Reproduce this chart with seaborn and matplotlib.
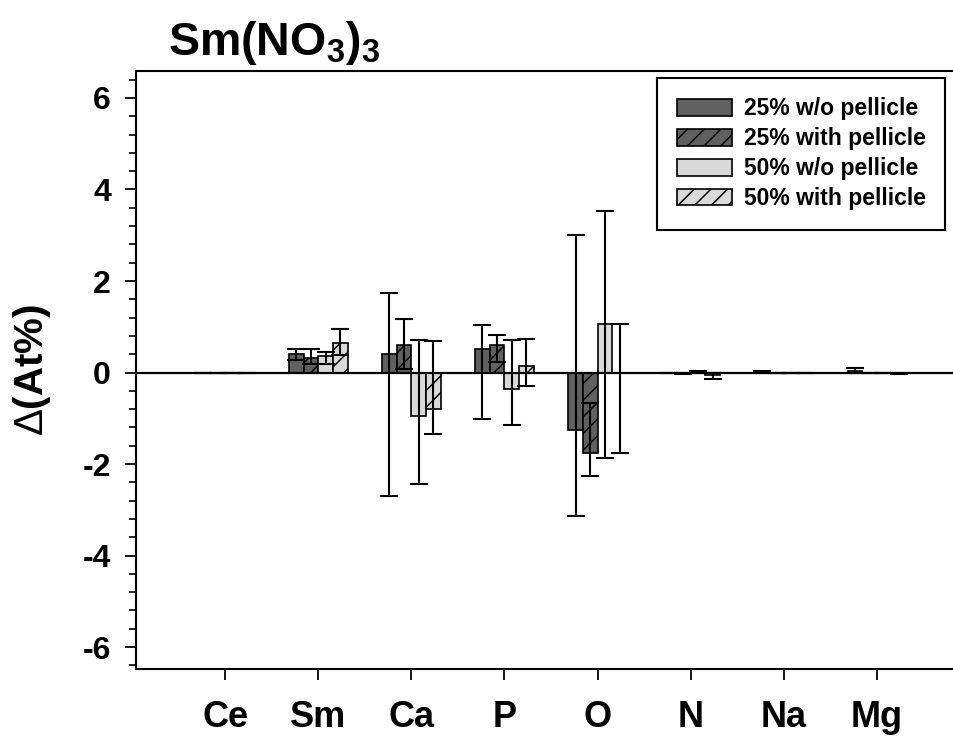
import numpy as np
import pandas as pd
import matplotlib
matplotlib.use("Agg")
import matplotlib.pyplot as plt
from matplotlib.ticker import MultipleLocator
import seaborn as sns

# -- data
categories = ["Ce", "Sm", "Ca", "P", "O", "N", "Na", "Mg"]
series = ["25% w/o pellicle", "25% with pellicle", "50% w/o pellicle", "50% with pellicle"]

val_25_wo = [0.0, 0.40, 0.41, 0.51, -1.26, 0.0, 0.02, 0.03]
lo_25_wo = [0.0, 0.27, -2.70, -1.02, -3.13, 0.0, 0.0, -0.01]
hi_25_wo = [0.0, 0.52, 1.74, 1.03, 3.01, 0.0, 0.03, 0.09]

val_25_with = [0.0, 0.31, 0.61, 0.61, -1.76, -0.02, 0.0, 0.0]
lo_25_with = [0.0, 0.19, 0.08, 0.23, -2.26, -0.04, 0.0, 0.0]
hi_25_with = [0.0, 0.52, 1.16, 0.81, -0.67, 0.0, 0.0, 0.0]

val_50_wo = [0.0, 0.36, -0.94, -0.36, 1.05, 0.02, 0.0, 0.0]
lo_50_wo = [0.0, 0.19, -2.43, -1.15, -1.86, 0.0, 0.0, 0.0]
hi_50_wo = [0.0, 0.45, 0.72, 0.72, 3.54, 0.03, 0.0, 0.0]

val_50_with = [0.0, 0.65, -0.80, 0.15, 0.0, -0.05, 0.0, -0.02]
lo_50_with = [0.0, 0.38, -1.35, -0.29, -1.76, -0.14, 0.0, -0.04]
hi_50_with = [0.0, 0.96, 0.68, 0.73, 1.07, 0.0, 0.0, 0.0]

values = [val_25_wo, val_25_with, val_50_wo, val_50_with]
lows = [lo_25_wo, lo_25_with, lo_50_wo, lo_50_with]
highs = [hi_25_wo, hi_25_with, hi_50_wo, hi_50_with]

colors = ["#606060", "#606060", "#d9d9d9", "#d9d9d9"]
hatches = ["", "//", "", "//"]

df = pd.DataFrame({
    "element": np.tile(categories, len(series)),
    "group": np.repeat(series, len(categories)),
    "delta": np.concatenate(values),
})

sns.set_style("ticks")
plt.rcParams["font.family"] = ["Liberation Sans", "DejaVu Sans"]
plt.rcParams["font.weight"] = "bold"
plt.rcParams["text.color"] = "black"
plt.rcParams["axes.labelcolor"] = "black"
plt.rcParams["xtick.color"] = "black"
plt.rcParams["ytick.color"] = "black"
plt.rcParams["mathtext.fontset"] = "custom"
plt.rcParams["mathtext.rm"] = "Liberation Sans:weight=normal"
plt.rcParams["mathtext.bf"] = "Liberation Sans:bold"
plt.rcParams["hatch.linewidth"] = 1.1
plt.rcParams["hatch.color"] = "black"

fig = plt.figure(figsize=(9.54, 7.38), dpi=100)
ax = fig.add_axes([0.1426, 0.0935, 0.870, 0.8103])

sns.barplot(data=df, x="element", y="delta", hue="group", order=categories,
            hue_order=series, palette=colors, width=0.63, errorbar=None,
            edgecolor="black", linewidth=1.2, saturation=1, ax=ax, zorder=2)

bars = list(ax.containers)

# -- hatches and error bars
for i, cont in enumerate(bars):
    xs = []
    for p in cont.patches:
        p.set_hatch(hatches[i])
        p.set_edgecolor("black")
        xs.append(p.get_x() + p.get_width() / 2)
    v = np.array(values[i])
    err = [v - np.array(lows[i]), np.array(highs[i]) - v]
    ax.errorbar(xs, v, yerr=err, fmt="none", ecolor="black", elinewidth=1.5,
                capsize=6.2, capthick=1.5, zorder=3)

ax.axhline(0, color="black", linewidth=1.6, zorder=4)

ax.set_xlim(-0.956, 7.956)
ax.set_ylim(-6.48, 6.59)
ax.yaxis.set_minor_locator(MultipleLocator(0.4))
ax.set_yticks([-6, -4, -2, 0, 2, 4, 6])
ax.set_yticklabels(["-6", "-4", "-2", "0", "2", "4", "6"])
ax.tick_params(axis="y", which="major", length=8, width=1.3, labelsize=23, pad=10)
ax.tick_params(axis="y", which="minor", length=5, width=1.2)
ax.tick_params(axis="x", which="major", length=8, width=1.3, labelsize=26, pad=14)
for lab in ax.get_xticklabels() + ax.get_yticklabels():
    lab.set_fontweight("bold")

for s in ["left", "bottom", "top"]:
    ax.spines[s].set_linewidth(1.5)
    ax.spines[s].set_color("black")
ax.spines["right"].set_visible(False)

ax.set_xlabel("")
ax.set_ylabel(r"$\Delta$(At%)", fontsize=29, fontweight="bold")
ax.yaxis.set_label_coords(-0.100, 0.5)

fig.text(168 / 954, 1 - 55 / 738, r"$\mathbf{Sm(NO_3)_3}$", fontsize=33.5,
         ha="left", va="baseline")

ax.legend(handles=bars, labels=series, loc="upper right",
          bbox_to_anchor=(945 / 954, 1 - 78 / 738), bbox_transform=fig.transFigure,
          borderaxespad=0, prop={"weight": "bold", "size": 16.5},
          handlelength=2.4, handleheight=0.74, handletextpad=0.52,
          labelspacing=0.3, borderpad=0.85, frameon=True, fancybox=False,
          edgecolor="black", framealpha=1)
ax.get_legend().get_frame().set_linewidth(1.5)

fig.savefig("out.png", dpi=100)
